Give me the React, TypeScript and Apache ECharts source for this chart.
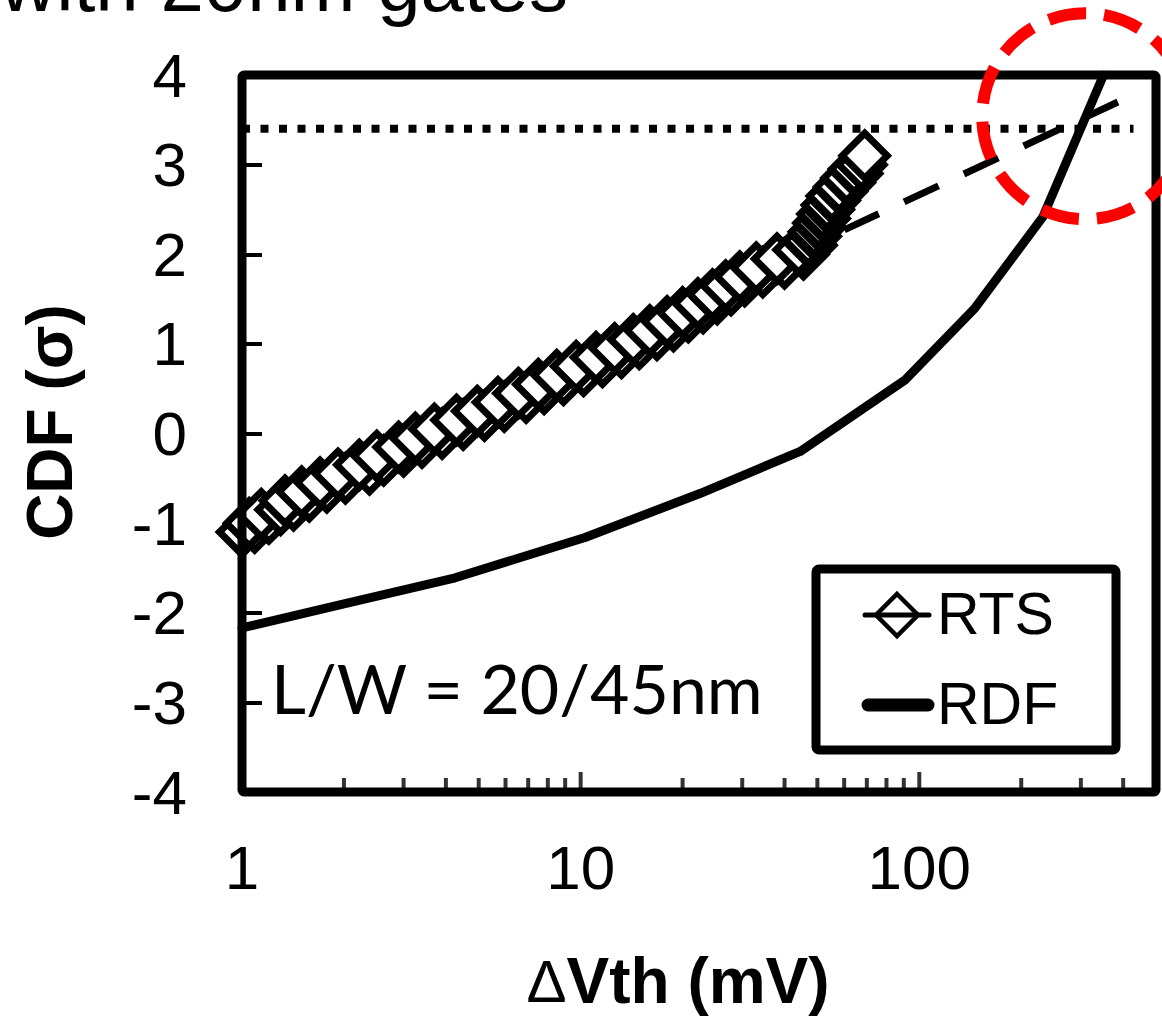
import React, { useEffect, useRef } from "react";
import * as echarts from "echarts";

// RTS measured points (ΔVth in mV, CDF in σ)
const rtsX = [
  1.0, 1.09, 1.05, 1.2, 1.14, 1.3, 1.42, 1.34, 1.58, 1.5, 1.78, 1.7, 2.02, 1.92, 2.38, 2.22,
  2.62, 2.5, 3.0, 2.9, 3.4, 3.25, 3.9, 3.7, 4.5, 4.3, 5.2, 4.95, 5.95, 5.7, 6.9, 6.55, 7.8, 7.5,
  8.9, 8.5, 10.2, 9.7, 11.6, 11.1, 13.2, 12.6, 14.9, 14.3, 16.8, 16.0, 18.8, 18.0, 20.8, 20.0,
  23.0, 22.2, 25.3, 24.5, 27.8, 26.8, 30.5, 29.5, 34.5, 33.0, 40.0, 38.0, 45.5, 44.0, 48.0, 47.0,
  49.4, 48.9, 51.0, 50.4, 52.5, 51.8, 54.0, 53.4, 56.2, 55.2, 59.0, 58.0, 62.3, 61.0, 65.5, 64.2,
  67.5, 69.0,
];
const rtsY = [
  -1.1, -1.05, -1.0, -0.95, -0.9, -0.85, -0.8, -0.75, -0.7, -0.65, -0.6, -0.55, -0.5, -0.45,
  -0.4, -0.35, -0.3, -0.25, -0.2, -0.15, -0.1, -0.05, 0.0, 0.05, 0.1, 0.15, 0.2, 0.25, 0.3, 0.35,
  0.4, 0.45, 0.5, 0.55, 0.6, 0.65, 0.7, 0.75, 0.8, 0.85, 0.9, 0.95, 1.0, 1.05, 1.1, 1.15, 1.2,
  1.25, 1.3, 1.35, 1.4, 1.45, 1.5, 1.55, 1.6, 1.65, 1.7, 1.75, 1.8, 1.85, 1.9, 1.95, 2.0, 2.05,
  2.1, 2.15, 2.2, 2.25, 2.3, 2.35, 2.4, 2.45, 2.5, 2.55, 2.6, 2.65, 2.7, 2.75, 2.8, 2.85, 2.9,
  2.95, 3.0, 3.1,
];

// RDF simulated curve
const rdfX = [1, 2, 4.26, 10.3, 22.5, 44.5, 91, 146, 232, 350];
const rdfY = [-2.17, -1.9, -1.61, -1.16, -0.67, -0.2, 0.6, 1.4, 2.42, 4.0];

// RTS extrapolation (dashed)
const fitX = [40, 429];
const fitY = [1.96, 3.78];

// 3.4σ limit (dotted)
const limitX = [1, 429];
const limitY = [3.4, 3.4];

// log ticks on the bottom axis
const majorTickX = [10, 100];
const minorTickX = [2, 3, 4, 5, 6, 7, 8, 9, 20, 30, 40, 50, 60, 70, 80, 90, 200, 300, 400];
const xTickLabels = ["1", "10", "100"];

// highlighted crossing region (circle center, data coords)
const highlightX = 309;
const highlightY = 3.54;

const zip = (xs: number[], ys: number[]) => xs.map((x, i) => [x, ys[i]]);

const FONT = "'Liberation Sans', Arial, sans-serif";

const GRID = { left: 242, top: 75, width: 914, height: 717 };

export default function App() {
  const ref = useRef<HTMLDivElement>(null);

  useEffect(() => {
    document.body.style.margin = "0";
    if (!ref.current) return;
    const chart = echarts.init(ref.current, undefined, { renderer: "svg" });

    const option: any = {
      animation: false,
      backgroundColor: "#ffffff",
      grid: {
        left: GRID.left,
        top: GRID.top,
        width: GRID.width,
        height: GRID.height,
        show: false,
      },
      xAxis: {
        type: "log",
        logBase: 10,
        min: 1,
        max: 500,
        axisLine: { show: false, onZero: false },
        axisTick: { show: false },
        splitLine: { show: false },
        axisLabel: {
          color: "#000",
          fontSize: 62,
          fontFamily: FONT,
          margin: 44,
          showMaxLabel: false,
          formatter: (v: number) => {
            const s = String(Math.round(v));
            return xTickLabels.indexOf(s) >= 0 ? s : "";
          },
        },
      },
      yAxis: {
        type: "value",
        min: -4,
        max: 4,
        interval: 1,
        axisLine: { show: false, onZero: false },
        axisTick: { show: true, inside: true, length: 20, lineStyle: { color: "#000", width: 4 } },
        splitLine: { show: false },
        axisLabel: { color: "#000", fontSize: 62, fontFamily: FONT, margin: 55 },
      },
      series: [
        {
          name: "majorTicks",
          type: "scatter",
          data: majorTickX.map((x) => [x, -4]),
          symbol: "rect",
          symbolSize: [4, 20],
          symbolOffset: [0, -10],
          itemStyle: { color: "#000" },
          clip: false,
          silent: true,
          z: 1,
        },
        {
          name: "minorTicks",
          type: "scatter",
          data: minorTickX.map((x) => [x, -4]),
          symbol: "rect",
          symbolSize: [4, 14],
          symbolOffset: [0, -7],
          itemStyle: { color: "#000" },
          clip: false,
          silent: true,
          z: 1,
        },
        {
          name: "3.4σ",
          type: "line",
          data: zip(limitX, limitY),
          showSymbol: false,
          lineStyle: { color: "#000", width: 8, type: [8, 10.5], cap: "butt" },
          z: 2,
        },
        {
          name: "fit",
          type: "line",
          data: zip(fitX, fitY),
          showSymbol: false,
          lineStyle: { color: "#000", width: 7, type: [38, 28], cap: "butt" },
          z: 2,
        },
        {
          name: "RDF",
          type: "line",
          data: zip(rdfX, rdfY),
          showSymbol: false,
          lineStyle: { color: "#000", width: 9, cap: "round", join: "round" },
          z: 3,
        },
        {
          name: "RTS",
          type: "line",
          data: zip(rtsX, rtsY),
          symbol: "diamond",
          symbolSize: 45,
          showSymbol: true,
          showAllSymbol: true,
          lineStyle: { color: "#000", width: 4 },
          itemStyle: { color: "#ffffff", borderColor: "#000", borderWidth: 7 },
          z: 4,
        },
      ],
    };
    chart.setOption(option);

    const [cx, cy] = chart.convertToPixel({ gridIndex: 0 }, [highlightX, highlightY]) as number[];

    const graphic: any[] = [
      {
        type: "text",
        x: 0,
        y: -16,
        style: {
          text: "with 20nm gates",
          fill: "#000",
          font: `78px ${FONT}`,
          align: "left",
          verticalAlign: "middle",
        },
        z: 50,
      },
      {
        type: "text",
        x: 50,
        y: 422,
        rotation: Math.PI / 2,
        style: {
          text: "CDF (σ)",
          fill: "#000",
          font: `bold 64px ${FONT}`,
          align: "center",
          verticalAlign: "middle",
        },
        z: 50,
      },
      {
        type: "text",
        x: 678,
        y: 981,
        style: {
          text: "{d|Δ}{b|Vth (mV)}",
          align: "center",
          verticalAlign: "middle",
          rich: {
            d: { fill: "#000", fontSize: 60, fontFamily: FONT, fontWeight: "normal" },
            b: { fill: "#000", fontSize: 64, fontFamily: FONT, fontWeight: "bold" },
          },
        },
        z: 50,
      },
      {
        type: "text",
        x: 271,
        y: 687,
        style: {
          text: "L/W = 20/45nm",
          fill: "#000",
          font: `68px Lato, 'Open Sans', sans-serif`,
          align: "left",
          verticalAlign: "middle",
        },
        z: 50,
      },
      // plot frame
      {
        type: "rect",
        shape: { x: GRID.left, y: GRID.top, width: GRID.width, height: GRID.height, r: 2 },
        style: { fill: "none", stroke: "#000", lineWidth: 9 },
        z: 100,
        silent: true,
      },
      // legend box
      {
        type: "rect",
        shape: { x: 816, y: 569, width: 300, height: 181, r: 3 },
        style: { fill: "#fff", stroke: "#000", lineWidth: 9 },
        z: 101,
      },
      {
        type: "polygon",
        shape: { points: [[897, 594], [918, 615], [897, 636], [876, 615]] },
        style: { fill: "#fff", stroke: "#000", lineWidth: 4.5 },
        z: 102,
      },
      {
        type: "line",
        shape: { x1: 865, y1: 615, x2: 929, y2: 615 },
        style: { stroke: "#000", lineWidth: 5, lineCap: "round" },
        z: 103,
      },
      {
        type: "text",
        x: 937,
        y: 614,
        style: {
          text: "RTS",
          fill: "#000",
          font: `59px ${FONT}`,
          align: "left",
          verticalAlign: "middle",
        },
        z: 103,
      },
      {
        type: "line",
        shape: { x1: 868, y1: 705, x2: 928, y2: 705 },
        style: { stroke: "#000", lineWidth: 13, lineCap: "round" },
        z: 103,
      },
      {
        type: "text",
        x: 937,
        y: 704,
        style: {
          text: "RDF",
          fill: "#000",
          font: `59px ${FONT}`,
          align: "left",
          verticalAlign: "middle",
        },
        z: 103,
      },
      // highlight circle
      {
        type: "circle",
        shape: { cx, cy, r: 103 },
        style: { fill: "none", stroke: "#ff0000", lineWidth: 12, lineDash: [38, 18] },
        z: 110,
      },
    ];
    chart.setOption({ graphic });

    return () => chart.dispose();
  }, []);

  return <div ref={ref} style={{ width: 1162, height: 1018 }} />;
}
